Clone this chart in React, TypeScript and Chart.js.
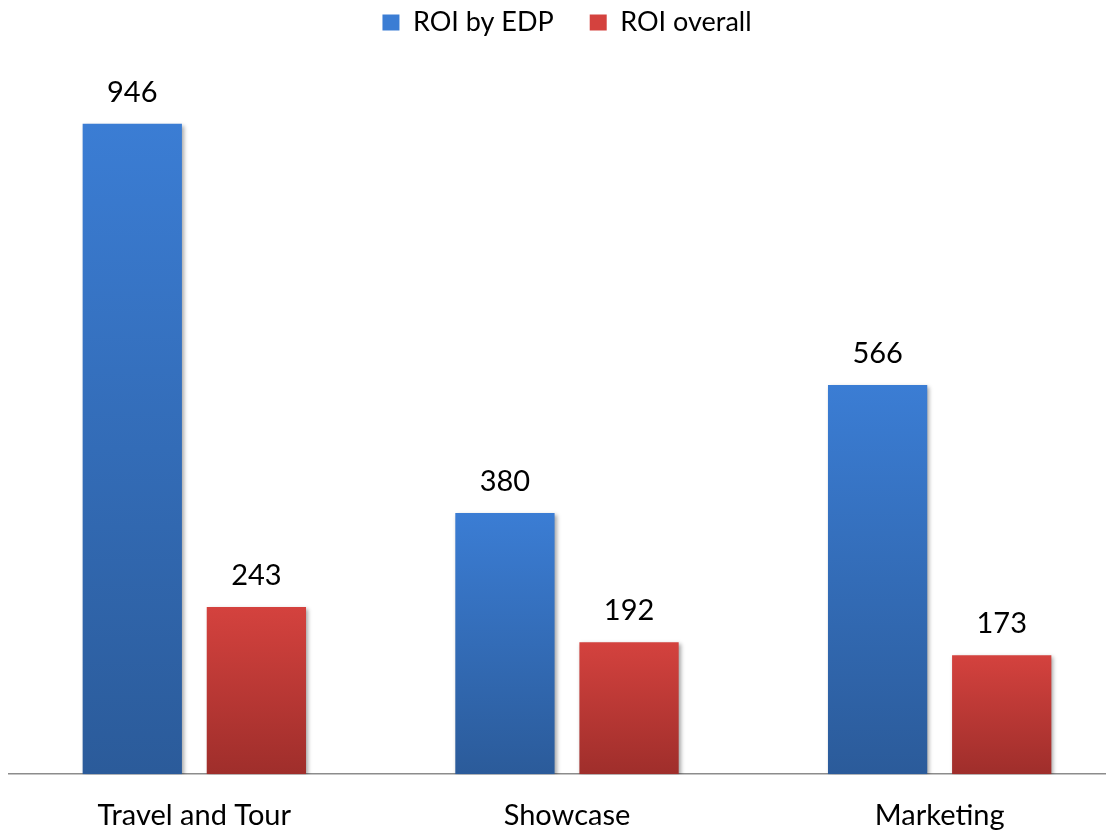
import React, { useEffect, useRef } from "react";
import { Chart, registerables } from "chart.js";

Chart.register(...registerables);

const categories = ["Travel and Tour", "Showcase", "Marketing"];
const seriesNames = ["ROI by EDP", "ROI overall"];
const roiByEdp = [946, 380, 566];
const roiOverall = [243, 192, 173];
const yMax = 1059;

const FONT = "Lato, 'Open Sans', sans-serif";

function gradientFill(top: string, bottom: string, solid: string) {
  return (c: any) => {
    if (c.type !== "data") return solid;
    const chart = c.chart;
    const yScale = chart.scales && chart.scales.y;
    if (!yScale || !chart.chartArea) return solid;
    const yTop = yScale.getPixelForValue(c.raw);
    const yBase = yScale.getPixelForValue(0);
    if (!isFinite(yTop) || !isFinite(yBase) || yTop === yBase) return solid;
    const g = chart.ctx.createLinearGradient(0, yTop, 0, yBase);
    g.addColorStop(0, top);
    g.addColorStop(1, bottom);
    return g;
  };
}

const shadowPlugin = {
  id: "barShadow",
  beforeDatasetsDraw(chart: any) {
    const ctx = chart.ctx;
    ctx.save();
    ctx.shadowColor = "rgba(0,0,0,0.35)";
    ctx.shadowBlur = 4;
    ctx.shadowOffsetX = 2;
    ctx.shadowOffsetY = 2;
  },
  afterDatasetsDraw(chart: any) {
    chart.ctx.restore();
  },
};

const valueLabelPlugin = {
  id: "valueLabels",
  afterDraw(chart: any) {
    const ctx = chart.ctx;
    ctx.save();
    ctx.font = `29px ${FONT}`;
    ctx.fillStyle = "#000";
    ctx.textAlign = "center";
    ctx.textBaseline = "alphabetic";
    chart.data.datasets.forEach((ds: any, di: number) => {
      const meta = chart.getDatasetMeta(di);
      meta.data.forEach((bar: any, i: number) => {
        ctx.fillText(String(ds.data[i]), bar.x, bar.y - 22);
      });
    });
    ctx.restore();
  },
};

export default function App() {
  const ref = useRef<HTMLCanvasElement | null>(null);

  useEffect(() => {
    document.documentElement.style.overflow = "hidden";
    document.body.style.overflow = "hidden";
    const canvas = ref.current;
    if (!canvas) return;
    const chart = new Chart(canvas, {
      type: "bar",
      data: {
        labels: categories,
        datasets: [
          {
            label: seriesNames[0],
            data: roiByEdp,
            backgroundColor: gradientFill("#3b7dd4", "#2b5b9a", "#3570bd"),
            borderWidth: 0,
          },
          {
            label: seriesNames[1],
            data: roiOverall,
            backgroundColor: gradientFill("#d4423e", "#9f2e2b", "#c03a36"),
            borderWidth: 0,
          },
        ],
      },
      options: {
        responsive: false,
        animation: false,
        devicePixelRatio: 1,
        layout: { padding: { top: -35, left: 0, right: 0, bottom: 0 } },
        datasets: {
          bar: { categoryPercentage: 0.666, barPercentage: 0.8 },
        },
        plugins: {
          legend: {
            position: "top",
            labels: {
              font: { family: FONT, size: 27 },
              color: "#000",
              boxWidth: 17,
              boxHeight: 16,
              padding: 36,
            },
          },
          tooltip: { enabled: false },
        },
        scales: {
          x: {
            grid: { display: false, drawTicks: false },
            border: { display: true, color: "#8c8c8c", width: 1.5 },
            ticks: {
              font: { family: FONT, size: 29 },
              color: "#000",
              padding: 24,
            },
          },
          y: {
            display: false,
            min: 0,
            max: yMax,
          },
        },
      },
      plugins: [shadowPlugin, valueLabelPlugin],
    });
    return () => chart.destroy();
  }, []);

  return (
    <div style={{ width: 1118, height: 849 }}>
      <canvas ref={ref} width={1118} height={849} style={{ display: "block" }} />
    </div>
  );
}
